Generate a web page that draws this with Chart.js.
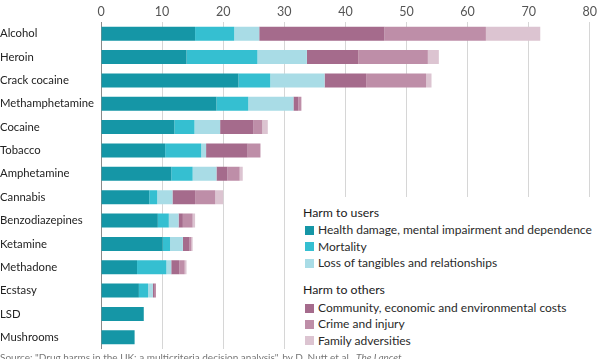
<!DOCTYPE html>
<html>
<head>
<meta charset="utf-8">
<script src="https://cdn.jsdelivr.net/npm/chart.js@4"></script>
<style>
  html, body { margin: 0; padding: 0; background: #fff; }
  #wrap { position: relative; width: 600px; height: 359px; overflow: hidden; font-family: Lato, "Noto Sans", sans-serif; }
  #c { position: absolute; left: 0; top: 0; }
  #legend { position: absolute; left: 293px; top: 197px; width: 307px; height: 152px; background: #fff; color: #2a2a2a; font-size: 12px; }
  #legend .ttl { position: absolute; left: 10px; font-size: 12.3px; color: #1a1a1a; }
  #legend .it { position: absolute; left: 12px; white-space: nowrap; }
  #legend .it span { display: inline-block; width: 9px; height: 9px; margin-right: 4px; vertical-align: -0.5px; }
  #source { position: absolute; left: 0; top: 351px; font-size: 10px; color: #777; white-space: nowrap; }
</style>
</head>
<body>
<div id="wrap">
  <canvas id="c" width="600" height="359"></canvas>
  <div id="legend"></div>
  <div id="source">Source: "Drug harms in the UK: a multicriteria decision analysis", by D. Nutt et al., <i>The Lancet</i></div>
</div>
<script>
const categories = ["Alcohol","Heroin","Crack cocaine","Methamphetamine","Cocaine","Tobacco","Amphetamine","Cannabis","Benzodiazepines","Ketamine","Methadone","Ecstasy","LSD","Mushrooms"];
const healthDamage = [15.4, 14.0, 22.5, 18.9, 12.0, 10.5, 11.5, 7.9, 9.3, 10.1, 5.9, 6.2, 7.0, 5.5];
const mortality    = [6.4, 11.6, 5.2, 5.2, 3.3, 5.9, 3.5, 1.3, 1.8, 1.2, 4.8, 1.5, 0, 0];
const lossTangibles= [4.1, 8.1, 8.9, 7.4, 4.2, 0.8, 3.9, 2.5, 1.6, 2.1, 0.8, 0.8, 0, 0];
const community    = [20.5, 8.4, 6.8, 0.8, 5.4, 6.8, 1.8, 3.7, 0.7, 1.1, 1.3, 0.3, 0, 0];
const crimeInjury  = [16.6, 11.4, 9.8, 0.5, 1.5, 2.1, 2.0, 3.3, 1.6, 0.3, 0.9, 0.2, 0, 0];
const family       = [8.9, 1.8, 0.9, 0, 0.9, 0, 0.5, 1.3, 0.4, 0.2, 0.3, 0, 0, 0];
const tickValues   = [0, 10, 20, 30, 40, 50, 60, 70, 80];

const userLabels  = ["Health damage, mental impairment and dependence", "Mortality", "Loss of tangibles and relationships"];
const otherLabels = ["Community, economic and environmental costs", "Crime and injury", "Family adversities"];
const userColors  = ["#1596a6", "#35bfd1", "#a9dce6"];
const otherColors = ["#a56b8c", "#be8ea8", "#dcc4d1"];

const seriesData = [healthDamage, mortality, lossTangibles, community, crimeInjury, family];
const seriesLabels = userLabels.concat(otherLabels);
const seriesColors = userColors.concat(otherColors);

const datasets = seriesData.map((d, i) => ({
  label: seriesLabels[i],
  data: d,
  backgroundColor: seriesColors[i],
  borderWidth: 0,
  barPercentage: 0.6,
  categoryPercentage: 1.0
}));

new Chart(document.getElementById('c'), {
  type: 'bar',
  data: { labels: categories, datasets },
  options: {
    indexAxis: 'y',
    responsive: false,
    animation: false,
    layout: { padding: { left: 0, right: 7, top: 0, bottom: 10 } },
    plugins: { legend: { display: false }, tooltip: { enabled: false } },
    scales: {
      x: {
        position: 'top',
        stacked: true,
        min: 0, max: 80,
        afterBuildTicks: (s) => { s.ticks = tickValues.map(v => ({ value: v })); },
        afterFit: (s) => { s.height = 22; },
        border: { display: false },
        grid: {
          drawTicks: false,
          color: (ctx) => (ctx.tick && ctx.tick.value === 0) ? '#8a8a8a' : '#d6d6d6',
          lineWidth: 1
        },
        ticks: { color: '#555', font: { family: 'Lato', size: 12.5 }, padding: 3 }
      },
      y: {
        stacked: true,
        afterFit: (s) => { s.width = 101; },
        border: { display: false },
        grid: { display: false, drawTicks: false },
        ticks: { crossAlign: 'far', color: '#222', font: { family: 'Lato', size: 11.3 }, padding: 0 }
      }
    }
  }
});

// Legend (HTML, real text)
const lg = document.getElementById('legend');
function addTitle(text, top) {
  const d = document.createElement('div'); d.className = 'ttl'; d.style.top = top + 'px'; d.textContent = text; lg.appendChild(d);
}
function addItem(text, color, top) {
  const d = document.createElement('div'); d.className = 'it'; d.style.top = top + 'px';
  const s = document.createElement('span'); s.style.background = color; d.appendChild(s);
  d.appendChild(document.createTextNode(text)); lg.appendChild(d);
}
addTitle("Harm to users", 8);
userLabels.forEach((t, i) => addItem(t, userColors[i], 25 + i * 16.5));
addTitle("Harm to others", 85);
otherLabels.forEach((t, i) => addItem(t, otherColors[i], 103 + i * 16.3));
</script>
</body>
</html>
